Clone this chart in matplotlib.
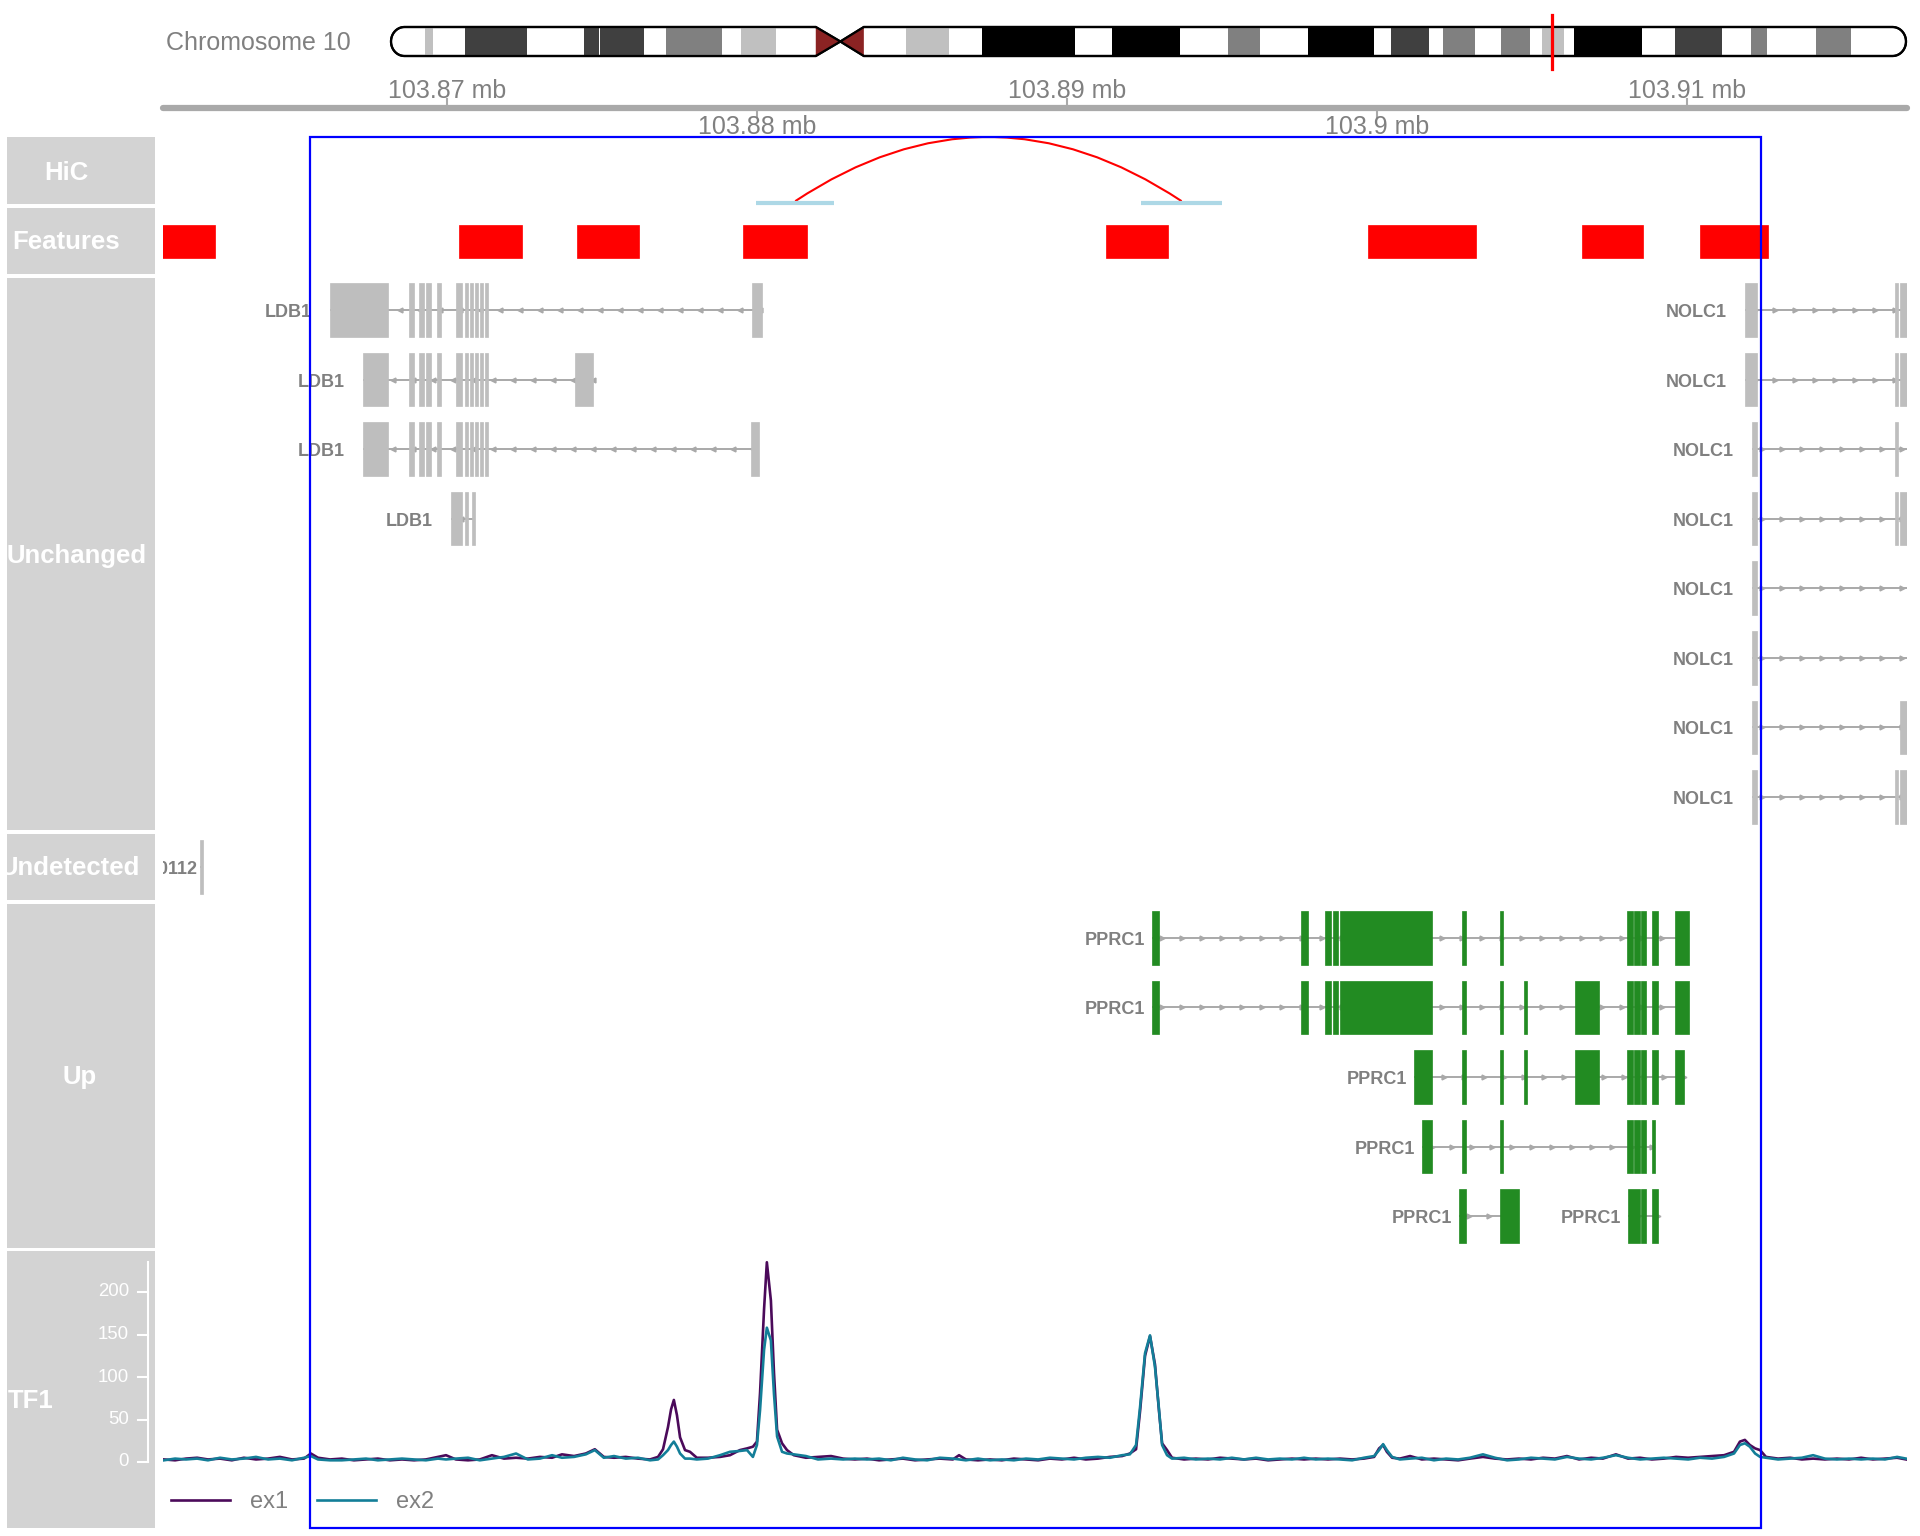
import numpy as np
import matplotlib
matplotlib.use('Agg')
import matplotlib.pyplot as plt
from matplotlib.patches import Rectangle, PathPatch, Polygon
from matplotlib.path import Path
from matplotlib.transforms import blended_transform_factory, ScaledTranslation

plt.rcParams['font.family'] = ['Liberation Sans', 'DejaVu Sans']

W, H = 1920, 1536

# ---- data -------------------------------------------------------------
x_range = (103860840, 103917100)
axis_ticks = [103870000, 103880000, 103890000, 103900000, 103910000]
axis_labels = ['103.87 mb', '103.88 mb', '103.89 mb', '103.9 mb', '103.91 mb']

chrom_name = 'Chromosome 10'
chrom_len = 135.53  # Mb
band_start = [3.0, 6.6, 17.3, 18.7, 24.6, 31.3, 46.1, 52.9, 64.5, 74.9, 82.0, 89.5,
              94.1, 99.3, 103.0, 105.8, 114.9, 121.7, 127.5]
band_end = [3.8, 12.2, 18.6, 22.6, 29.6, 34.4, 49.9, 61.2, 70.6, 77.7, 87.9, 92.9,
            97.0, 101.9, 104.9, 111.9, 119.1, 123.1, 130.6]
band_stain = ['gpos25', 'gpos75', 'gpos75', 'gpos75', 'gpos50', 'gpos25', 'gpos25',
              'gpos100', 'gpos100', 'gpos50', 'gpos100', 'gpos75', 'gpos50', 'gpos50',
              'gpos25', 'gpos100', 'gpos75', 'gpos50', 'gpos50']
cen_start, cen_mid, cen_end = 38.0, 40.2, 42.3

hic_anchor1 = (103879970, 103882500)
hic_anchor2 = (103892400, 103895000)

feat_start = [103860700, 103870390, 103874190, 103879550, 103891260, 103899710, 103906620, 103910420]
feat_end = [103862520, 103872420, 103876190, 103881610, 103893260, 103903200, 103908580, 103912620]

highlight = (103865580, 103912390)

ldb1_tx = [
    [(103866230, 103868100), (103868770, 103868940), (103869100, 103869260), (103869320, 103869480),
     (103869680, 103869810), (103870290, 103870480), (103870580, 103870680), (103870740, 103870840),
     (103870900, 103871000), (103871060, 103871160), (103871230, 103871320), (103879840, 103880160)],
    [(103867290, 103868100), (103868770, 103868940), (103869100, 103869260), (103869320, 103869480),
     (103869680, 103869810), (103870290, 103870480), (103870580, 103870680), (103870740, 103870840),
     (103870900, 103871000), (103871060, 103871160), (103871230, 103871320), (103874130, 103874710)],
    [(103867290, 103868100), (103868770, 103868940), (103869100, 103869260), (103869320, 103869480),
     (103869680, 103869810), (103870290, 103870480), (103870580, 103870680), (103870740, 103870840),
     (103870900, 103871000), (103871060, 103871160), (103871230, 103871320), (103879810, 103880070)],
    [(103870130, 103870480), (103870580, 103870680), (103870810, 103870900)],
]

nolc1_end = 103918000
nolc1_tx = [
    [(103911870, 103912260), (103916710, 103916810), (103916870, 103918000)],
    [(103911870, 103912260), (103916710, 103916810), (103916870, 103918000)],
    [(103912100, 103912260), (103916710, 103916810)],
    [(103912100, 103912260), (103916710, 103916810), (103916870, 103918000)],
    [(103912100, 103912260)],
    [(103912100, 103912260)],
    [(103912100, 103912260), (103916870, 103918000)],
    [(103912100, 103912260), (103916710, 103916810), (103916870, 103918000)],
]

undetected_tx = [(103862030, 103862130)]
undetected_name = 'ENSG00000270112'

pprc1_tx = [
    [(103892740, 103892970), (103897550, 103897780), (103898320, 103898520), (103898580, 103898740),
     (103898810, 103901780), (103902740, 103902870), (103903970, 103904070), (103908070, 103908260),
     (103908290, 103908490), (103908520, 103908680), (103908870, 103909070), (103909620, 103910070)],
    [(103892740, 103892970), (103897550, 103897780), (103898320, 103898520), (103898580, 103898740),
     (103898810, 103901780), (103902740, 103902870), (103903970, 103904070), (103904740, 103904840),
     (103906390, 103907160), (103908070, 103908260), (103908290, 103908490), (103908520, 103908680),
     (103908870, 103909070), (103909620, 103910070)],
    [(103901200, 103901780), (103902740, 103902870), (103903970, 103904070), (103904740, 103904840),
     (103906390, 103907160), (103908070, 103908260), (103908290, 103908490), (103908520, 103908680),
     (103908870, 103909070), (103909620, 103909910)],
    [(103901450, 103901780), (103902740, 103902870), (103903970, 103904070), (103908070, 103908260),
     (103908290, 103908490), (103908520, 103908680), (103908870, 103908970)],
    [(103902650, 103902870), (103903970, 103904580)],
    [(103908100, 103908490), (103908520, 103908680), (103908870, 103909070)],
]
pprc1_rows = [0, 1, 2, 3, 4, 4]

tf_pos = [
    103860870, 103861230, 103861580, 103861940, 103862290, 103862680, 103863060, 103863450, 103863840, 103864230,
    103864610, 103865000, 103865390, 103865610, 103865840, 103866230, 103866610, 103867000, 103867390, 103867770,
    103868160, 103868550, 103868940, 103869320, 103869710, 103869970, 103870290, 103870680, 103871060, 103871450,
    103871840, 103872230, 103872610, 103873000, 103873390, 103873710, 103874100, 103874480, 103874770, 103875060,
    103875390, 103875770, 103876160, 103876550, 103876810, 103876970, 103877130, 103877230, 103877320, 103877420,
    103877520, 103877680, 103877840, 103878060, 103878420, 103878810, 103879130, 103879450, 103879680, 103879870,
    103880000, 103880100, 103880230, 103880320, 103880450, 103880550, 103880650, 103880810, 103880970, 103881190,
    103881580, 103881970, 103882390, 103882780, 103883160, 103883550, 103883940, 103884320, 103884710, 103885100,
    103885490, 103885900, 103886320, 103886520, 103886740, 103887130, 103887520, 103887900, 103888290, 103888680,
    103889070, 103889450, 103889840, 103890230, 103890610, 103891000, 103891390, 103891780, 103892030, 103892230,
    103892360, 103892520, 103892680, 103892840, 103892970, 103893070, 103893230, 103893390, 103893780, 103894160,
    103894550, 103894940, 103895320, 103895710, 103896100, 103896490, 103896870, 103897260, 103897650, 103898030,
    103898420, 103898810, 103899200, 103899580, 103899910, 103900070, 103900200, 103900320, 103900490, 103900740,
    103901070, 103901450, 103901840, 103902230, 103902620, 103903000, 103903420, 103903810, 103904200, 103904580,
    103904970, 103905360, 103905740, 103906130, 103906520, 103906910, 103907290, 103907710, 103908100, 103908490,
    103908870, 103909260, 103909650, 103910040, 103910420, 103910810, 103911200, 103911520, 103911710, 103911870,
    103912030, 103912200, 103912360, 103912550, 103912940, 103913330, 103913710, 103914070, 103914450, 103914840,
    103915230, 103915620, 103916000, 103916390, 103916780, 103917070,
]
tf_ex1 = [
    3, 2, 4, 5, 3, 4, 2, 5, 3, 4,
    6, 3, 4, 10, 5, 3, 4, 2, 3, 4,
    2, 3, 2, 3, 6, 8, 3, 2, 3, 8,
    4, 5, 4, 6, 5, 9, 7, 10, 15, 6,
    5, 6, 4, 3, 6, 15, 41, 62, 73, 55,
    29, 14, 12, 5, 5, 6, 8, 14, 16, 18,
    24, 81, 180, 235, 190, 105, 38, 22, 14, 8,
    5, 6, 7, 4, 3, 4, 2, 3, 4, 2,
    3, 4, 3, 8, 3, 2, 3, 2, 4, 3,
    2, 4, 3, 5, 3, 4, 6, 7, 10, 15,
    60, 125, 148, 115, 60, 22, 14, 5, 3, 4,
    3, 5, 4, 3, 4, 2, 3, 4, 3, 4,
    3, 4, 3, 4, 6, 16, 20, 12, 5, 4,
    7, 3, 4, 3, 2, 4, 6, 4, 3, 4,
    3, 5, 4, 7, 3, 5, 4, 9, 4, 5,
    3, 4, 6, 5, 6, 7, 8, 12, 24, 26,
    20, 16, 14, 6, 4, 5, 3, 4, 3, 4,
    3, 5, 3, 4, 5, 3,
]
tf_ex2 = [
    2, 4, 3, 4, 2, 5, 3, 4, 6, 3,
    4, 2, 5, 7, 3, 2, 2, 3, 4, 2,
    3, 4, 3, 2, 4, 3, 4, 5, 2, 4,
    6, 10, 3, 4, 8, 5, 6, 9, 14, 5,
    7, 4, 5, 2, 3, 8, 14, 20, 24, 18,
    10, 4, 4, 3, 4, 8, 12, 13, 14, 6,
    20, 61, 132, 158, 143, 80, 30, 12, 10, 9,
    7, 3, 4, 3, 4, 3, 4, 2, 5, 3,
    2, 5, 4, 3, 2, 4, 2, 3, 2, 4,
    3, 5, 4, 3, 5, 6, 5, 8, 9, 20,
    65, 128, 149, 112, 62, 20, 8, 4, 5, 3,
    4, 3, 5, 3, 5, 3, 4, 3, 5, 3,
    4, 3, 2, 5, 7, 14, 21, 14, 6, 3,
    4, 5, 2, 4, 3, 5, 9, 5, 2, 3,
    5, 4, 3, 6, 4, 3, 5, 8, 5, 3,
    4, 5, 4, 3, 5, 4, 6, 10, 20, 22,
    18, 10, 6, 5, 3, 4, 5, 8, 4, 3,
    4, 3, 4, 3, 6, 4,
]
tf_ticks = [0, 50, 100, 150, 200]
series_names = ['ex1', 'ex2']

panel_names = ['HiC', 'Features', 'Unchanged', 'Undetected', 'Up', 'TF1']

# ---- style ------------------------------------------------------------
grey_txt = '#808080'
axis_col = '#A9A9A9'
intron_col = '#A9A9A9'
title_bg = '#D3D3D3'
gene_grey = '#BEBEBE'
gene_green = '#228B22'
series_cols = ['#4B0A5A', '#137E98']
stain_col = {'gpos25': '#C0C0C0', 'gpos50': '#808080', 'gpos75': '#404040', 'gpos100': '#000000'}

fig = plt.figure(figsize=(W / 100, H / 100), dpi=100)


def px_axes(x0, y0, x1, y1):
    ax = fig.add_axes([x0 / W, 1 - y1 / H, (x1 - x0) / W, (y1 - y0) / H])
    ax.set_xticks([])
    ax.set_yticks([])
    for s in ax.spines.values():
        s.set_visible(False)
    ax.patch.set_alpha(0)
    return ax


DX0, DX1 = 163, 1907
bp_per_px = (x_range[1] - x_range[0]) / (DX1 - DX0)

# ---- ideogram ---------------------------------------------------------
ax_id = px_axes(391, 27, 1906, 56)
ax_id.set_xlim(0, chrom_len)
ax_id.set_ylim(0, 1)
rx = 1.2
t = np.linspace(np.pi / 2, 3 * np.pi / 2, 30)
left_arc = np.column_stack([rx + rx * np.cos(t), 0.5 + 0.5 * np.sin(t)])
t2 = np.linspace(-np.pi / 2, np.pi / 2, 30)
right_arc = np.column_stack([chrom_len - rx + rx * np.cos(t2), 0.5 + 0.5 * np.sin(t2)])
verts = ([(cen_mid, 0.5), (cen_start, 1)] + [tuple(p) for p in left_arc] +
         [(cen_start, 0), (cen_mid, 0.5), (cen_end, 0)] + [tuple(p) for p in right_arc] +
         [(cen_end, 1), (cen_mid, 0.5)])
outline = PathPatch(Path(verts), facecolor='white', edgecolor='black', lw=1.6, zorder=1, clip_on=False)
ax_id.add_patch(outline)
for s, e, st in zip(band_start, band_end, band_stain):
    r = Rectangle((s, 0), e - s, 1, facecolor=stain_col[st], edgecolor='none', zorder=2)
    ax_id.add_patch(r)
    r.set_clip_path(outline)
for tri in ([(cen_start, 1), (cen_start, 0), (cen_mid, 0.5)], [(cen_end, 1), (cen_end, 0), (cen_mid, 0.5)]):
    ax_id.add_patch(Polygon(tri, closed=True, facecolor='#8B2323', edgecolor='none', zorder=2))
ax_id.add_patch(PathPatch(Path(verts), facecolor='none', edgecolor='black', lw=1.6, zorder=3, clip_on=False))
ax_id.add_patch(Rectangle((x_range[0] / 1e6, -0.48), (x_range[1] - x_range[0]) / 1e6, 1.89,
                          facecolor='none', edgecolor='red', lw=1.6, zorder=4, clip_on=False))
fig.text(351 / W, 1 - 43 / H, chrom_name, ha='right', va='center', fontsize=18, color=grey_txt)

# ---- genome axis -----------------------------------------------------
ax_ax = px_axes(DX0, 60, DX1, 135)
ax_ax.set_xlim(*x_range)
ax_ax.set_ylim(0, 1)
ax_ax.plot(x_range, [0.36, 0.36], color=axis_col, lw=4.5, solid_capstyle='round', clip_on=False)
for i, (tk, lab) in enumerate(zip(axis_ticks, axis_labels)):
    up = i % 2 == 0
    ax_ax.plot([tk, tk], [0.36, 0.48 if up else 0.24], color=axis_col, lw=1.5)
    ax_ax.text(tk, 0.59 if up else 0.10, lab, ha='center', va='center', fontsize=18, color=grey_txt)

# ---- title panels ----------------------------------------------------
title_boxes = [(137, 204), (208, 274), (278, 830), (834, 900), (904, 1248), (1251, 1528)]
title_xc = [66, 66, 77, 70, 80, 31]
title_yc = [173, 242, 556, 868, 1077, 1401]
title_axes = []
for name, (y0, y1), xc, yc in zip(panel_names, title_boxes, title_xc, title_yc):
    tax = px_axes(7, y0, 155, y1)
    tax.patch.set_alpha(1)
    tax.set_facecolor(title_bg)
    tax.text((xc - 7) / 148, 1 - (yc - y0) / (y1 - y0), name, transform=tax.transAxes,
             ha='center', va='center', fontsize=18.5, fontweight='bold', color='white', clip_on=True)
    title_axes.append(tax)

# ---- HiC -------------------------------------------------------------
ax_hic = px_axes(DX0, 137, DX1, 206)
ax_hic.set_xlim(*x_range)
ax_hic.set_ylim(0, 1)
for a in (hic_anchor1, hic_anchor2):
    ax_hic.plot(a, [0.04, 0.04], color='#ADD8E6', lw=3, solid_capstyle='butt', clip_on=False)
m1, m2 = np.mean(hic_anchor1), np.mean(hic_anchor2)
arc = Path([(m1, 0.07), ((m1 + m2) / 2, 1.93), (m2, 0.07)], [Path.MOVETO, Path.CURVE3, Path.CURVE3])
ax_hic.add_patch(PathPatch(arc, facecolor='none', edgecolor='red', lw=1.5, clip_on=False))

# ---- Features --------------------------------------------------------
ax_ft = px_axes(DX0, 208, DX1, 274)
ax_ft.set_xlim(*x_range)
ax_ft.set_ylim(0, 1)
for s, e in zip(feat_start, feat_end):
    ax_ft.add_patch(Rectangle((s, 0.25), e - s, 0.5, facecolor='#FF0000', edgecolor='#FF0000', lw=0.5))


# ---- gene tracks -----------------------------------------------------
def draw_tx(ax, row, exons, strand, color, label, gap_px, tx_end=None):
    start = exons[0][0]
    end = max(exons[-1][1], tx_end or 0)
    ax.plot([start, end], [row, row], color=intron_col, lw=1.4, zorder=1, solid_capstyle='butt')
    step = 20 * bp_per_px
    marks = np.arange(start + step / 2, end, step)
    ax.plot(marks, np.full(len(marks), row), ls='none', marker='>' if strand == '+' else '<',
            ms=3.5, color=intron_col, mec=intron_col, zorder=1)
    for s, e in exons:
        ax.add_patch(Rectangle((s, row - 0.385), e - s, 0.77, facecolor=color, edgecolor=color,
                               lw=0.5, zorder=2))
    off = ScaledTranslation(-gap_px / 100, -2.5 / 100, fig.dpi_scale_trans)
    ax.text(start, row, label, transform=ax.transData + off, ha='right', va='center', fontsize=13,
            fontweight='bold', color=grey_txt, clip_on=True)


ax_un = px_axes(DX0, 278, DX1, 830)
ax_un.set_xlim(*x_range)
ax_un.set_ylim(7.475, -0.46)
for i, ex in enumerate(ldb1_tx):
    draw_tx(ax_un, i, ex, '-', gene_grey, 'LDB1', 18)
for i, ex in enumerate(nolc1_tx):
    draw_tx(ax_un, i, ex, '+', gene_grey, 'NOLC1', 18, tx_end=nolc1_end)

ax_nd = px_axes(DX0, 834, DX1, 900)
ax_nd.set_xlim(*x_range)
ax_nd.set_ylim(0.474, -0.474)
draw_tx(ax_nd, 0, undetected_tx, '+', gene_grey, undetected_name, 2)

ax_up = px_axes(DX0, 904, DX1, 1248)
ax_up.set_xlim(*x_range)
ax_up.set_ylim(4.46, -0.489)
for r, ex in zip(pprc1_rows, pprc1_tx):
    draw_tx(ax_up, r, ex, '+', gene_green, 'PPRC1', 7)

# ---- TF1 signal ------------------------------------------------------
ylim_tf = (-(1528 - 1462) / 0.85, (1462 - 1251) / 0.85)
ax_tf = px_axes(DX0, 1251, DX1, 1528)
ax_tf.set_xlim(*x_range)
ax_tf.set_ylim(*ylim_tf)
handles = []
for vals, col, nm in zip([tf_ex1, tf_ex2], series_cols, series_names):
    ln, = ax_tf.plot(tf_pos, vals, color=col, lw=1.9, label=nm)
    handles.append(ln)
leg = ax_tf.legend(handles=handles, loc='center left', bbox_to_anchor=(8 / (DX1 - DX0), 1 - (1502 - 1251) / 277),
                   ncol=2, frameon=False, fontsize=17, labelcolor=grey_txt, handlelength=2.5,
                   handletextpad=0.85, columnspacing=1.2, borderpad=0, borderaxespad=0)

tax = title_axes[-1]
tax.set_ylim(*ylim_tf)
bt = blended_transform_factory(tax.transAxes, tax.transData)
xa = (148 - 7) / 148
xt = (138 - 7) / 148
xl = (129 - 7) / 148
ax_top = max(max(tf_ex1), max(tf_ex2))
tax.plot([xa, xa], [0, ax_top], color='white', lw=1.5, transform=bt)
for v in tf_ticks:
    tax.plot([xt, xa], [v, v], color='white', lw=1.5, transform=bt)
    tax.text(xl, v, str(v), transform=bt, ha='right', va='center', fontsize=13.4, color='white')

# ---- highlight box ----------------------------------------------------
bt_fig = blended_transform_factory(ax_tf.transData, fig.transFigure)
fig.add_artist(Rectangle((highlight[0], 1 - 1528 / H), highlight[1] - highlight[0], (1528 - 137) / H,
                         facecolor='none', edgecolor='#0000FF', lw=1.6, transform=bt_fig, zorder=10))

fig.savefig('out.png', dpi=100)
